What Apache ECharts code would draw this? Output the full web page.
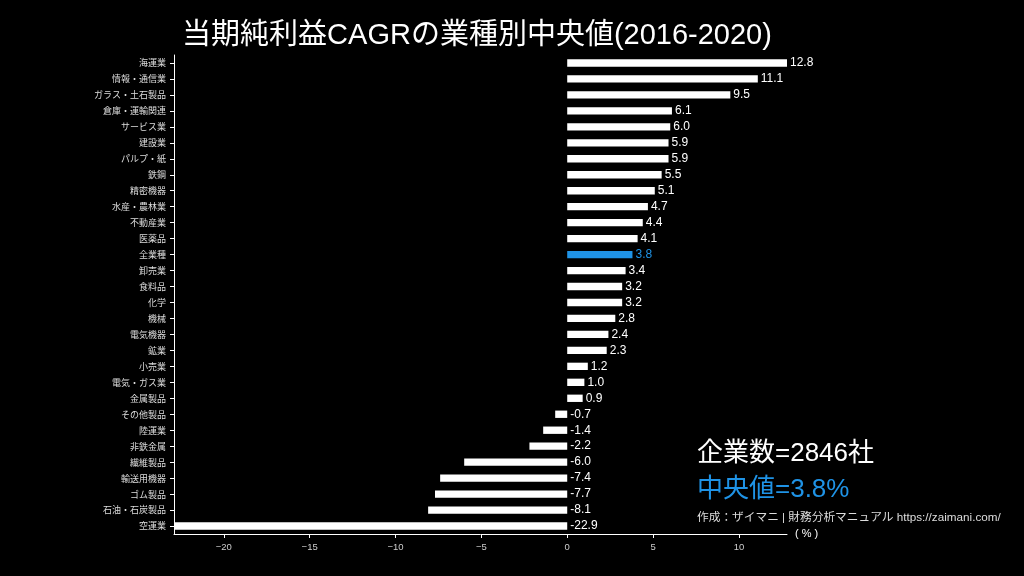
<!DOCTYPE html>
<html>
<head>
<meta charset="utf-8">
<script src="https://cdn.jsdelivr.net/npm/echarts@6/dist/echarts.min.js"></script>
<style>
html, body { margin: 0; padding: 0; background: #000; }
#chart { width: 1024px; height: 576px; }
</style>
</head>
<body>
<div id="chart"></div>
<script>
// 業種名（上から順）
var categories = ['海運業', '情報・通信業', 'ガラス・土石製品', '倉庫・運輸関連', 'サービス業', '建設業', 'パルプ・紙', '鉄鋼',
    '精密機器', '水産・農林業', '不動産業', '医薬品', '全業種', '卸売業', '食料品', '化学', '機械', '電気機器', '鉱業',
    '小売業', '電気・ガス業', '金属製品', 'その他製品', '陸運業', '非鉄金属', '繊維製品', '輸送用機器', 'ゴム製品',
    '石油・石炭製品', '空運業'];
// CAGR中央値(%)
var values = [12.8, 11.1, 9.5, 6.1, 6.0, 5.9, 5.9, 5.5, 5.1, 4.7, 4.4, 4.1, 3.8, 3.4, 3.2, 3.2, 2.8, 2.4, 2.3,
    1.2, 1.0, 0.9, -0.7, -1.4, -2.2, -6.0, -7.4, -7.7, -8.1, -22.9];
var highlight = '全業種';
var companyCount = 2846;
var medianAll = 3.8;

var font = '"Liberation Sans", "Noto Sans CJK JP", sans-serif';
var blue = '#1f93e6';

var chart = echarts.init(document.getElementById('chart'));

var barData = [];
for (var i = 0; i < values.length; i++) {
    var isHi = categories[i] == highlight;
    barData.push({
        value: values[i],
        itemStyle: { color: isHi ? blue : '#ffffff' },
        label: { color: isHi ? blue : '#ffffff' }
    });
}

var option = {
    backgroundColor: '#000000',
    textStyle: { fontFamily: font },
    title: {
        text: '当期純利益CAGRの業種別中央値(2016-2020)',
        left: 472,
        top: 16,
        textAlign: 'center',
        textStyle: { color: '#ffffff', fontSize: 29, fontWeight: 'normal', fontFamily: font }
    },
    grid: { left: 174, right: 237, top: 55, bottom: 42 },
    xAxis: {
        type: 'value',
        min: 'dataMin',
        max: 'dataMax',
        splitNumber: 7,
        name: '( % )',
        nameLocation: 'end',
        nameGap: 8,
        nameTextStyle: { color: '#ffffff', fontSize: 11, verticalAlign: 'middle' },
        axisLine: { show: true, onZero: false, lineStyle: { color: '#ffffff', width: 1 } },
        axisTick: { show: true, lineStyle: { color: '#ffffff' }, length: 4 },
        axisLabel: {
            color: '#cccccc', fontSize: 9.5, margin: 9,
            showMinLabel: false, showMaxLabel: false,
            formatter: function(v) { return v < 0 ? '\u2212' + Math.abs(v) : v; }
        },
        splitLine: { show: false }
    },
    yAxis: {
        type: 'category',
        data: categories,
        inverse: true,
        axisLine: { show: true, onZero: false, lineStyle: { color: '#ffffff', width: 1 } },
        axisTick: { show: true, alignWithLabel: true, lineStyle: { color: '#ffffff' }, length: 4 },
        axisLabel: { color: '#dddddd', fontSize: 9, margin: 8, fontFamily: '"Noto Sans CJK JP", sans-serif' }
    },
    series: [{
        type: 'bar',
        data: barData,
        barWidth: '46%',
        label: {
            show: true,
            position: 'right',
            distance: 3,
            fontSize: 12,
            formatter: function(p) { return p.value.toFixed(1); }
        }
    }],
    graphic: [{
        type: 'text',
        left: 697,
        top: 441,
        style: { text: '企業数=' + companyCount + '社', fill: '#ffffff', fontSize: 26, fontFamily: font }
    }, {
        type: 'text',
        left: 697,
        top: 477,
        style: { text: '中央値=' + medianAll.toFixed(1) + '%', fill: blue, fontSize: 26, fontFamily: font }
    }, {
        type: 'text',
        left: 697,
        top: 512,
        style: { text: '作成：ザイマニ | 財務分析マニュアル https://zaimani.com/', fill: '#dddddd', fontSize: 11.7, fontFamily: font }
    }]
};
chart.setOption(option);
</script>
</body>
</html>
